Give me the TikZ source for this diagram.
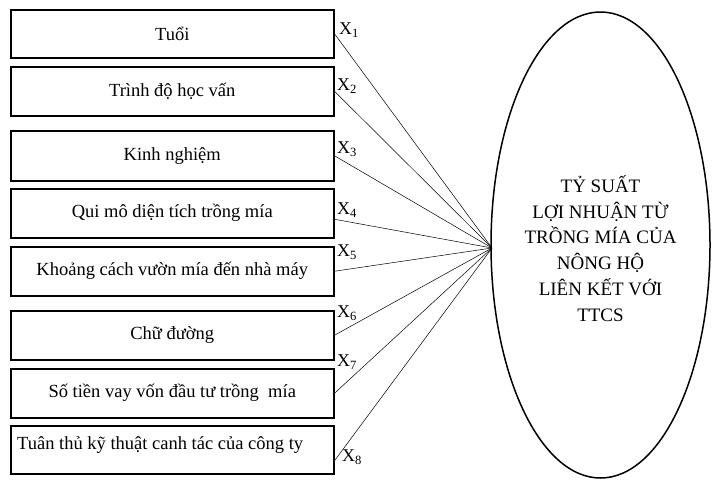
\documentclass[tikz,border=0pt]{standalone}
\usepackage{fontspec}
\setmainfont{Liberation Serif}
\usetikzlibrary{shapes.geometric}
\begin{document}
\begin{tikzpicture}[x=1pt,y=-1pt,
 box/.style={draw,line width=1.5pt,minimum width=323pt,inner sep=0pt,anchor=north west,font=\fontsize{18.5}{22}\selectfont},
 lbl/.style={font=\fontsize{18}{20}\selectfont,inner sep=0pt,anchor=west},
 conn/.style={line width=0.5pt}]
\useasboundingbox (0,0) rectangle (720,483);
\node[box,minimum height=48pt] (b1) at (10,9) {\raisebox{-2pt}{Tuổi}};
\node[box,minimum height=49pt] (b2) at (10,66) {\raisebox{-2pt}{Trình độ học vấn}};
\node[box,minimum height=50pt] (b3) at (10,130) {\raisebox{-2pt}{Kinh nghiệm}};
\node[box,minimum height=49pt] (b4) at (10,188) {\raisebox{-2pt}{Qui mô diện tích trồng mía}};
\node[box,minimum height=49pt] (b5) at (10,246) {\raisebox{-2pt}{Khoảng cách vườn mía đến nhà máy}};
\node[box,minimum height=49pt] (b6) at (10,310) {\raisebox{-2pt}{Chữ đường}};
\node[box,minimum height=49pt] (b7) at (10,368) {\raisebox{-2pt}{Số tiền vay vốn đầu tư trồng\ \ mía}};
\node[box,minimum height=48pt] (b8) at (10,425) {};
\node[font=\fontsize{18.5}{22}\selectfont,inner sep=0pt,anchor=west] (t8) at (17,445) {Tuân thủ kỹ thuật canh tác của công ty};
\node[draw,ellipse,line width=1.5pt,minimum width=219pt,minimum height=466pt,inner sep=0pt,align=center,font=\fontsize{19}{25.8}\selectfont] (e) at (600.5,245) {\raisebox{0pt}{}\\[-2pt]TỶ SUẤT\\LỢI NHUẬN TỪ\\TRỒNG MÍA CỦA\\NÔNG HỘ\\LIÊN KẾT VỚI\\TTCS};
\coordinate (p) at (492,248);
\coordinate (s4) at ([yshift=-6pt]b4.east);
\coordinate (s8) at ([yshift=-11pt]b8.east);
\draw[conn] (b1.east) -- (p);
\draw[conn] (b2.east) -- (p);
\draw[conn] (b3.east) -- (p);
\draw[conn] (s4) -- (p);
\draw[conn] (b5.east) -- (p);
\draw[conn] (b6.east) -- (p);
\draw[conn] (b7.east) -- (p);
\draw[conn] (s8) -- (p);
\node[lbl] (x1) at (339,30) {X\textsubscript{1}};
\node[lbl] (x2) at (337,86) {X\textsubscript{2}};
\node[lbl] (x3) at (337,149) {X\textsubscript{3}};
\node[lbl] (x4) at (337,210) {X\textsubscript{4}};
\node[lbl] (x5) at (337,252) {X\textsubscript{5}};
\node[lbl] (x6) at (337,313) {X\textsubscript{6}};
\node[lbl] (x7) at (337,362) {X\textsubscript{7}};
\node[lbl] (x8) at (342,457) {X\textsubscript{8}};
\end{tikzpicture}
\end{document}
